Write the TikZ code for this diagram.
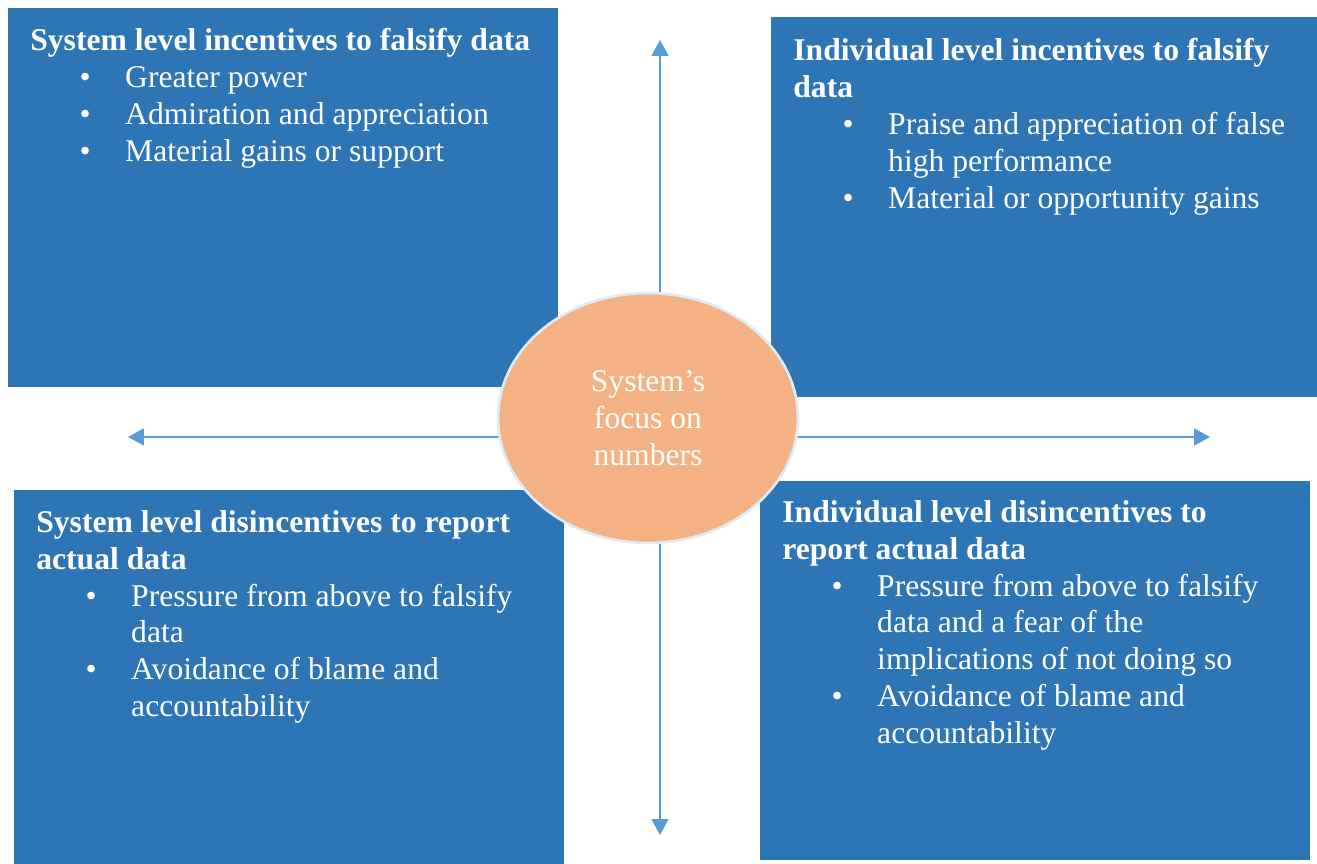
\documentclass[tikz,border=0pt]{standalone}
\usepackage{fontspec}
\setmainfont{Liberation Serif}
\usetikzlibrary{arrows.meta}
\usetikzlibrary{backgrounds}
\usetikzlibrary{shapes.geometric}

\definecolor{boxblue}{HTML}{2E75B6}
\definecolor{peach}{HTML}{F4B183}
\definecolor{rimblue}{HTML}{DDEBF7}
\definecolor{arrowblue}{HTML}{5B9BD5}

\newcommand{\pnt}[1]{\hspace*{28pt}\makebox[26pt][l]{\textbullet}#1}
\newcommand{\pntc}[1]{\hspace*{54pt}#1}

\begin{document}
\begin{tikzpicture}
	[x=0.02cm, y=-0.02cm,
	box/.style={fill=boxblue, draw=none},
	txt/.style={anchor=north west, inner sep=0pt, align=left, text=white, font=\fontsize{18}{21}\selectfont},
	arr/.style={draw=arrowblue, line width=1.3pt, -{Triangle[length=9pt,width=9.5pt]}}];

	\useasboundingbox (0,0) rectangle (1317,864);

	%Quadrants
	\fill[boxblue] (8,8) rectangle (558,387);
	\fill[boxblue] (771,17) rectangle (1317,397);
	\fill[boxblue] (14,490) rectangle (564,864);
	\fill[boxblue] (760,481) rectangle (1310,860);

	\node[txt] (sysinc) at (30,28) {\textbf{System level incentives to falsify data}\\
		\pnt{Greater power}\\
		\pnt{Admiration and appreciation}\\
		\pnt{Material gains or support}};
	\node[txt] (indinc) at (793,38) {\textbf{Individual level incentives to falsify}\\
		\textbf{data}\\
		\pnt{Praise and appreciation of false}\\
		\pntc{high performance}\\
		\pnt{Material or opportunity gains}};
	\node[txt] (sysdis) at (36,510) {\textbf{System level disincentives to report}\\
		\textbf{actual data}\\
		\pnt{Pressure from above to falsify}\\
		\pntc{data}\\
		\pnt{Avoidance of blame and}\\
		\pntc{accountability}};
	\node[txt] (inddis) at (782,500) {\textbf{Individual level disincentives to}\\
		\textbf{report actual data}\\
		\pnt{Pressure from above to falsify}\\
		\pntc{data and a fear of the}\\
		\pntc{implications of not doing so}\\
		\pnt{Avoidance of blame and}\\
		\pntc{accountability}};

	%Centre
	\node[ellipse, fill=peach, draw=rimblue, line width=1.5pt, minimum width=6cm, minimum height=5cm, inner sep=0pt,
		align=center, text=white, font=\fontsize{18}{21}\selectfont] (focus) at (648,418) {System's\\focus on\\numbers};

	%Arrows
	\coordinate (up) at (660,40);
	\coordinate (down) at (660,835);
	\coordinate (left) at (128,437);
	\coordinate (right) at (1210,437);
	\begin{scope}[on background layer]
	\draw[arr] (focus.center -| up) -- (up);
	\draw[arr] (focus.center -| down) -- (down);
	\draw[arr] (left -| focus.center) -- (left);
	\draw[arr] (right -| focus.center) -- (right);
	\end{scope}
\end{tikzpicture}
\end{document}
